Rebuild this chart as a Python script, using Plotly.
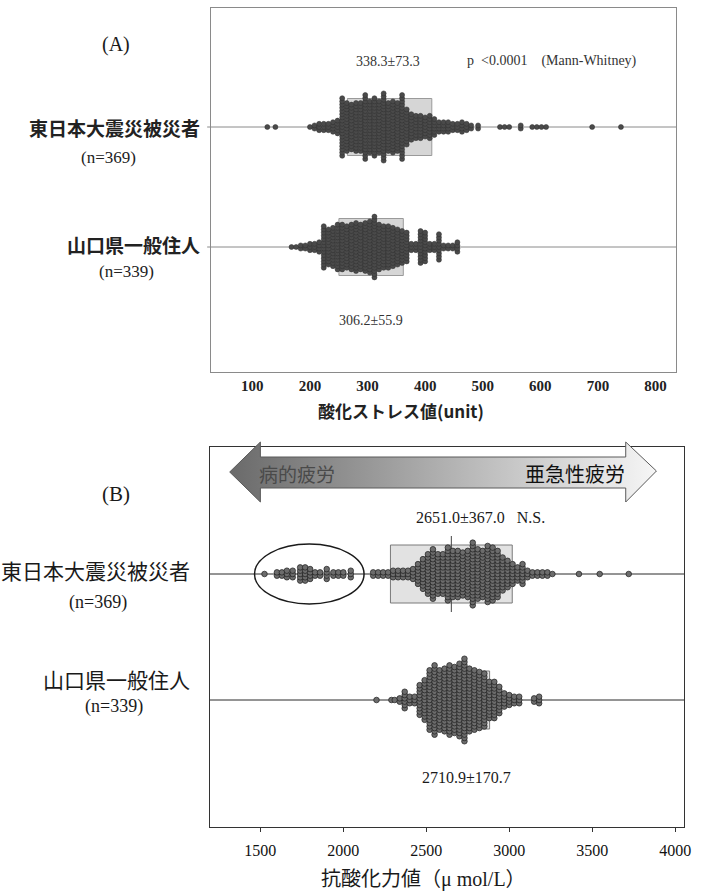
import plotly.graph_objects as go

W, H = 706, 894

# ---------------- data ----------------
groups = ["東日本大震災被災者", "山口県一般住人"]
group_n = [369, 339]

# (A) oxidative stress value (unit): dot-stack bins (value, number of subjects)
a_disaster_vals = [126, 140, 200, 208, 216, 224, 232, 240, 248, 256, 264, 272, 280, 288,
                   296, 304, 312, 320, 328, 336, 344, 352, 360, 368, 376, 384, 392, 400,
                   408, 416, 424, 432, 440, 448, 456, 464, 472, 480, 492, 530, 538, 546,
                   566, 586, 594, 602, 610, 690, 740]
a_disaster_cnts = [1, 1, 1, 2, 3, 3, 3, 4, 5, 19, 16, 15, 16, 16,
                   21, 17, 19, 17, 22, 16, 17, 16, 21, 12, 9, 8, 8, 7,
                   8, 6, 4, 4, 4, 3, 3, 4, 3, 2, 2, 1, 1, 1,
                   2, 1, 1, 1, 1, 1, 1]
a_yamaguchi_vals = [168, 176, 184, 192, 200, 208, 216, 224, 232, 240, 248, 256, 264, 272,
                    280, 288, 296, 304, 312, 320, 328, 336, 344, 352, 360, 368, 376, 384,
                    392, 400, 408, 416, 424, 432, 440, 448, 456]
a_yamaguchi_cnts = [1, 1, 2, 2, 3, 3, 4, 14, 12, 13, 15, 15, 14, 15,
                    16, 15, 16, 17, 20, 15, 14, 14, 13, 12, 11, 10, 3, 3,
                    11, 10, 3, 3, 9, 2, 2, 2, 4]
a_means = [338.3, 306.2]
a_sds = [73.3, 55.9]
a_ticks = [100, 200, 300, 400, 500, 600, 700, 800]

# (B) antioxidant capacity (μmol/L)
b_disaster_vals = [1525, 1600, 1630, 1660, 1695, 1740, 1770, 1800, 1830, 1860, 1900, 1940,
                   1970, 2000, 2045, 2180, 2210, 2240, 2270, 2300, 2330, 2360, 2390, 2420,
                   2450, 2480, 2510, 2540, 2570, 2600, 2630, 2660, 2690, 2720, 2750, 2780,
                   2810, 2840, 2870, 2900, 2930, 2960, 2990, 3020, 3050, 3080, 3110, 3140,
                   3170, 3200, 3230, 3260, 3420, 3545, 3720]
b_disaster_cnts = [1, 2, 2, 3, 3, 5, 5, 4, 2, 2, 4, 2,
                   2, 2, 3, 2, 2, 2, 2, 3, 3, 3, 3, 4,
                   7, 10, 13, 16, 13, 13, 17, 15, 15, 14, 15, 20,
                   16, 15, 18, 17, 15, 11, 9, 7, 5, 7, 3, 2,
                   2, 2, 2, 1, 1, 1, 1]
b_yamaguchi_vals = [2200, 2290, 2310, 2340, 2370, 2400, 2430, 2460, 2490, 2520, 2550, 2580,
                    2610, 2640, 2670, 2700, 2730, 2760, 2790, 2820, 2850, 2880, 2910, 2940,
                    2970, 3000, 3030, 3060, 3150, 3180]
b_yamaguchi_cnts = [1, 1, 1, 2, 6, 3, 3, 10, 13, 19, 22, 19,
                    20, 22, 21, 23, 26, 20, 19, 18, 17, 12, 12, 9,
                    5, 4, 3, 3, 2, 3]
b_means = [2651.0, 2710.9]
b_sds = [367.0, 170.7]
b_ticks = [1500, 2000, 2500, 3000, 3500, 4000]
b_lowgroup_range = [1465, 2125]   # subjects circled as 病的疲労

# ---------------- layout helpers ----------------
SERIF = "Liberation Serif, Times New Roman, serif"
JP = "Noto Sans CJK JP, sans-serif"


def pxx(x):
    return x / W


def pxy(y):
    return 1 - y / H


def stack(vals, cnts, row, step):
    xs, ys = [], []
    for v, c in zip(vals, cnts):
        for i in range(c):
            xs.append(v)
            ys.append(row + (i - (c - 1) / 2) * step)
    return xs, ys


# panel geometry (y axes are in pixel units so stacks have a fixed spacing)
A_BOX = (213, 683, 8, 372)
B_BOX = (212, 691, 447, 827)
A_ROWS = [372 - 127, 372 - 247]
B_ROWS = [827 - 574, 827 - 700]
A_STEP, B_STEP = 3.2, 3.3

fig = go.Figure()

a_sets = [(a_disaster_vals, a_disaster_cnts), (a_yamaguchi_vals, a_yamaguchi_cnts)]
b_sets = [(b_disaster_vals, b_disaster_cnts), (b_yamaguchi_vals, b_yamaguchi_cnts)]

for (vals, cnts), row in zip(a_sets, A_ROWS):
    xs, ys = stack(vals, cnts, row, A_STEP)
    fig.add_trace(go.Scatter(x=xs, y=ys, mode="markers", xaxis="x", yaxis="y",
                             marker=dict(size=5, color="#4a4a4a",
                                         line=dict(color="#2e2e2e", width=0.5)),
                             showlegend=False, hoverinfo="x"))

for (vals, cnts), row in zip(b_sets, B_ROWS):
    xs, ys = stack(vals, cnts, row, B_STEP)
    fig.add_trace(go.Scatter(x=xs, y=ys, mode="markers", xaxis="x2", yaxis="y2",
                             marker=dict(size=5.6, color="#6c6c6c",
                                         line=dict(color="#1e1e1e", width=0.7)),
                             showlegend=False, hoverinfo="x"))

# double-headed arrow (pathological fatigue <-> subacute fatigue)
arrow_x = [232, 263, 263, 632, 632, 663, 632, 632, 263, 263, 232]
arrow_y = [472, 442, 457, 457, 442, 471, 502, 488, 488, 502, 472]
fig.add_trace(go.Scatter(x=arrow_x, y=arrow_y, xaxis="x3", yaxis="y3", mode="lines",
                         fill="toself",
                         fillgradient=dict(type="horizontal",
                                           colorscale=[[0, "#6a6a6a"], [0.45, "#a9a9a9"],
                                                       [1, "#f6f6f6"]]),
                         line=dict(color="#5a5a5a", width=1),
                         showlegend=False, hoverinfo="skip"))

shapes = []
# mean ± SD boxes
for m, s, row in zip(a_means, a_sds, A_ROWS):
    shapes.append(dict(type="rect", xref="x", yref="y", x0=m - s, x1=m + s,
                       y0=row - 28.5, y1=row + 28.5, fillcolor="#d6d6d6",
                       line=dict(color="#9a9a9a", width=1), layer="below"))
for m, s, row in zip(b_means, b_sds, B_ROWS):
    shapes.append(dict(type="rect", xref="x2", yref="y2", x0=m - s, x1=m + s,
                       y0=row - 29, y1=row + 29, fillcolor="#e2e2e2",
                       line=dict(color="#7a7a7a", width=1), layer="below"))
    shapes.append(dict(type="line", xref="x2", yref="y2", x0=m, x1=m,
                       y0=row - 38, y1=row + 38, line=dict(color="#444444", width=1),
                       layer="below"))
# group baselines
for row in A_ROWS:
    shapes.append(dict(type="line", xref="x domain", yref="y", x0=-0.008, x1=1,
                       y0=row, y1=row, line=dict(color="#8a8a8a", width=1), layer="below"))
for row in B_ROWS:
    shapes.append(dict(type="line", xref="x2 domain", yref="y2", x0=0, x1=1,
                       y0=row, y1=row, line=dict(color="#2a2a2a", width=1), layer="below"))
# circled low-capacity subjects
shapes.append(dict(type="circle", xref="x2", yref="y2",
                   x0=b_lowgroup_range[0], x1=b_lowgroup_range[1],
                   y0=B_ROWS[0] - 30, y1=B_ROWS[0] + 30,
                   line=dict(color="#1a1a1a", width=1.5)))

annotations = []


def note(text, x, y, size, family=SERIF, color="#1a1a1a", xanchor="center", weight="normal"):
    annotations.append(dict(text=text, x=pxx(x), y=pxy(y), xref="paper", yref="paper",
                            xanchor=xanchor, yanchor="middle", showarrow=False,
                            font=dict(size=size, family=family, color=color, weight=weight)))


# panel letters
note("(A)", 117, 45, 20)
note("(B)", 117, 494, 21)

# group labels
a_label_pos = [(204, 127, 110, 157), (204, 245, 128, 271)]
b_label_pos = [(194, 570, 99, 602), (194, 679, 115, 706)]
for name, n, (xr, yl, xn, yn) in zip(groups, group_n, a_label_pos):
    note(name, xr, yl, 19, family=JP, xanchor="right", weight="bold", color="#222222")
    note(f"(n={n})", xn, yn, 17, color="#222222")
for name, n, (xr, yl, xn, yn) in zip(groups, group_n, b_label_pos):
    note(name, xr, yl, 21, family=JP, xanchor="right")
    note(f"(n={n})", xn, yn, 18)

# statistics
note(f"{a_means[0]}±{a_sds[0]}", 392, 61, 14, color="#333333")
note("p &nbsp;&lt;0.0001 &nbsp;&nbsp;&nbsp;(Mann-Whitney)", 558, 61, 14, color="#333333")
note(f"{a_means[1]}±{a_sds[1]}", 375, 320, 14, color="#333333")
note(f"{b_means[0]:.1f}±{b_sds[0]:.1f} &nbsp;&nbsp;N.S.", 485, 517, 16)
note(f"{b_means[1]:.1f}±{b_sds[1]:.1f}", 471, 777, 16)

# arrow captions
note("病的疲労", 300, 473, 19, family=JP, color="#4a4a4a")
note("亜急性疲労", 581, 473, 20, family=JP, color="#111111")

# axis titles
note("酸化ストレス値(unit)", 405, 410, 17, family=JP, weight="bold", color="#222222")
note("抗酸化力値（<span style='font-family:Liberation Serif'>μ mol/L</span>）",
     428, 877, 20, family=JP)

fig.update_layout(
    width=W, height=H, autosize=False,
    margin=dict(l=0, r=0, t=0, b=0),
    paper_bgcolor="white", plot_bgcolor="rgba(0,0,0,0)",
    showlegend=False,
    shapes=shapes, annotations=annotations,
    xaxis=dict(domain=[pxx(A_BOX[0]), pxx(A_BOX[1])], range=[28, 836],
               tickvals=a_ticks, ticks="", showgrid=False, zeroline=False,
               showline=True, linecolor="#8a8a8a", linewidth=1, mirror=True,
               tickfont=dict(family=SERIF, size=15, color="#222222", weight="bold"),
               ticklabelstandoff=0),
    yaxis=dict(domain=[pxy(A_BOX[3]), pxy(A_BOX[2])], range=[0, A_BOX[3] - A_BOX[2]],
               showticklabels=False, ticks="", showgrid=False, zeroline=False,
               showline=True, linecolor="#8a8a8a", linewidth=1, mirror=True),
    xaxis2=dict(domain=[pxx(B_BOX[0]), pxx(B_BOX[1])], range=[1196, 4054],
                tickvals=b_ticks, ticks="outside", ticklen=4, tickcolor="#333333",
                showgrid=False, zeroline=False, anchor="y2",
                showline=True, linecolor="#333333", linewidth=1, mirror=True,
                tickfont=dict(family=SERIF, size=16, color="#111111"),
                ticklabelstandoff=5),
    yaxis2=dict(domain=[pxy(B_BOX[3]), pxy(B_BOX[2])], range=[0, B_BOX[3] - B_BOX[2]],
                anchor="x2", showticklabels=False, ticks="", showgrid=False,
                zeroline=False, showline=True, linecolor="#333333", linewidth=1,
                mirror=True),
    xaxis3=dict(domain=[0, 1], range=[0, W], visible=False, anchor="y3",
                fixedrange=True),
    yaxis3=dict(domain=[0, 1], range=[H, 0], visible=False, anchor="x3",
                fixedrange=True),
)

fig.write_html("out.html")
